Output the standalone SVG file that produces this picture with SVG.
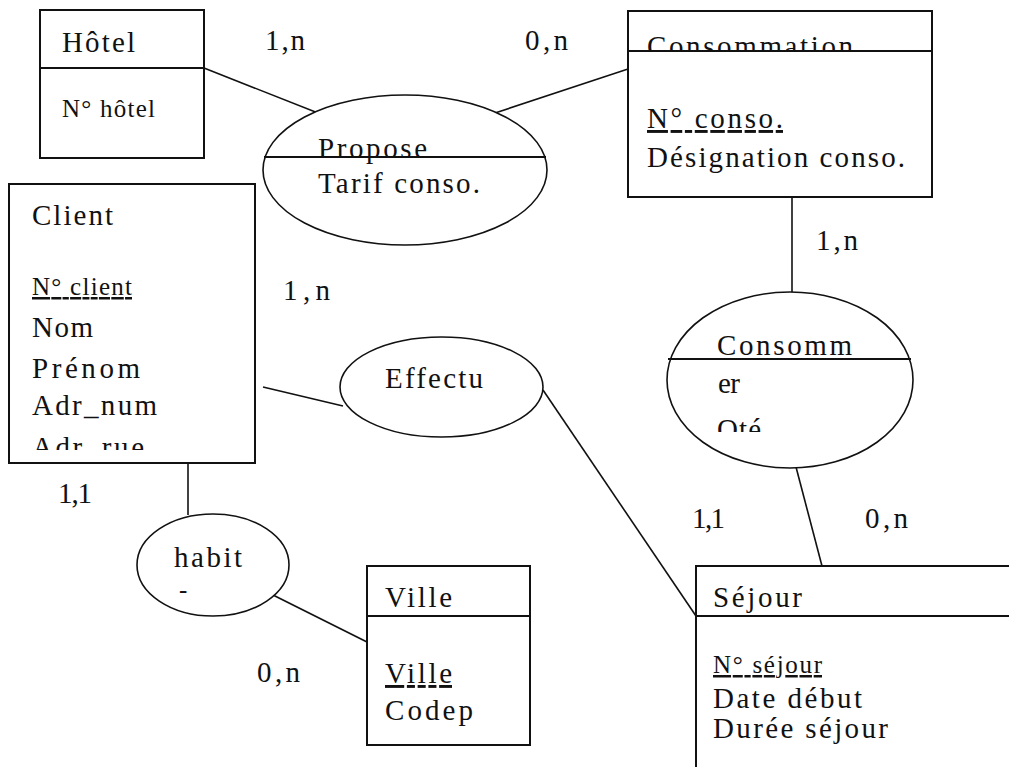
<svg xmlns="http://www.w3.org/2000/svg" width="1009" height="767" viewBox="0 0 1009 767">
<style>
text{font-family:"Liberation Serif","Times New Roman",serif;font-size:25px;fill:#111}
.t{font-size:29px}
.box{fill:#fff;stroke:#111;stroke-width:2}
.div{stroke:#111;stroke-width:2}
.ell{fill:#fff;stroke:#111;stroke-width:1.6}
.con{stroke:#111;stroke-width:1.6;fill:none}
.u{text-decoration:underline}
</style>
<defs>
<clipPath id="cCons"><rect x="630" y="12" width="300" height="38"/></clipPath>
<clipPath id="cAdr"><rect x="10" y="420" width="240" height="30"/></clipPath>
<clipPath id="cQte"><rect x="668" y="400" width="200" height="32"/></clipPath>
</defs>
<rect width="1009" height="767" fill="#fff"/>
<g id="connectors">
<line class="con" x1="204" y1="68" x2="318" y2="113"/>
<line class="con" x1="495" y1="113" x2="628" y2="69"/>
<line class="con" x1="792" y1="197" x2="792" y2="292"/>
<line class="con" x1="796" y1="467" x2="822" y2="566"/>
<line class="con" x1="263" y1="387" x2="343" y2="406"/>
<line class="con" x1="543" y1="390" x2="696" y2="616"/>
<line class="con" x1="188" y1="463" x2="188" y2="515"/>
<line class="con" x1="263" y1="590" x2="367" y2="642"/>
</g>
<g id="hotel">
<rect class="box" x="40" y="10" width="164" height="148"/>
<line class="div" x1="40" y1="68" x2="204" y2="68"/>
<text class="t" x="62" y="52" textLength="73" lengthAdjust="spacing">Hôtel</text>
<text x="62" y="117" textLength="93" lengthAdjust="spacing">N° hôtel</text>
</g>
<g id="propose">
<ellipse class="ell" cx="405" cy="170" rx="142" ry="75"/>
<line class="div" x1="264" y1="157" x2="546" y2="157"/>
<text class="t" x="318" y="158" textLength="109" lengthAdjust="spacing">Propose</text>
<text class="t" x="318" y="193" textLength="162" lengthAdjust="spacing">Tarif conso.</text>
</g>
<g id="consommation">
<rect class="box" x="628" y="11" width="304" height="186"/>
<text class="t" x="647" y="56" textLength="206" lengthAdjust="spacing" clip-path="url(#cCons)">Consommation</text>
<line class="div" x1="628" y1="51" x2="932" y2="51"/>
<text class="t u" x="647" y="128" textLength="136" lengthAdjust="spacing">N° conso.</text>
<text class="t" x="647" y="167" textLength="258" lengthAdjust="spacing">Désignation conso.</text>
</g>
<g id="client">
<rect class="box" x="9" y="184" width="246" height="279"/>
<text class="t" x="32" y="225" textLength="81" lengthAdjust="spacing">Client</text>
<text class="u" x="32" y="295" textLength="100" lengthAdjust="spacing">N° client</text>
<text class="t" x="32" y="337" textLength="61" lengthAdjust="spacing">Nom</text>
<text class="t" x="32" y="378" textLength="108" lengthAdjust="spacing">Prénom</text>
<text class="t" x="32" y="415" textLength="125" lengthAdjust="spacing">Adr_num</text>
<text class="t" x="32" y="457" textLength="112" lengthAdjust="spacing" clip-path="url(#cAdr)">Adr_rue</text>
</g>
<g id="effectu">
<ellipse class="ell" cx="441.5" cy="387" rx="101.5" ry="50"/>
<text class="t" x="385" y="388" textLength="98" lengthAdjust="spacing">Effectu</text>
</g>
<g id="consommer">
<ellipse class="ell" cx="790" cy="380" rx="123" ry="88"/>
<line class="div" x1="668" y1="359" x2="911" y2="359"/>
<text class="t" x="717" y="355" textLength="135" lengthAdjust="spacing">Consomm</text>
<text class="t" x="718" y="393" textLength="22" lengthAdjust="spacing">er</text>
<text class="t" x="717" y="439" textLength="44" lengthAdjust="spacing" clip-path="url(#cQte)">Qté</text>
</g>
<g id="habit">
<ellipse class="ell" cx="213" cy="565" rx="76" ry="51"/>
<text class="t" x="174" y="567" textLength="68" lengthAdjust="spacing">habit</text>
<text x="179" y="598">-</text>
</g>
<g id="ville">
<rect class="box" x="367" y="566" width="163" height="179"/>
<line class="div" x1="367" y1="616" x2="530" y2="616"/>
<text class="t" x="385" y="607" textLength="67" lengthAdjust="spacing">Ville</text>
<text class="t u" x="385" y="683" textLength="67" lengthAdjust="spacing">Ville</text>
<text class="t" x="385" y="720" textLength="88" lengthAdjust="spacing">Codep</text>
</g>
<g id="sejour">
<rect class="box" x="696" y="566" width="330" height="220"/>
<line class="div" x1="696" y1="616" x2="1009" y2="616"/>
<text class="t" x="713" y="607" textLength="89" lengthAdjust="spacing">Séjour</text>
<text class="u" x="713" y="673" textLength="109" lengthAdjust="spacing">N° séjour</text>
<text class="t" x="713" y="708" textLength="149" lengthAdjust="spacing">Date début</text>
<text class="t" x="713" y="738" textLength="175" lengthAdjust="spacing">Durée séjour</text>
</g>
<g id="labels">
<text class="t" x="265" y="50" textLength="40" lengthAdjust="spacing">1,n</text>
<text class="t" x="525" y="50" textLength="43" lengthAdjust="spacing">0,n</text>
<text class="t" x="816" y="250" textLength="42" lengthAdjust="spacing">1,n</text>
<text class="t" x="283" y="300" textLength="47" lengthAdjust="spacing">1,n</text>
<text class="t" x="58" y="503" textLength="34" lengthAdjust="spacing">1,1</text>
<text class="t" x="257" y="682" textLength="43" lengthAdjust="spacing">0,n</text>
<text class="t" x="692" y="528" textLength="33" lengthAdjust="spacing">1,1</text>
<text class="t" x="865" y="528" textLength="43" lengthAdjust="spacing">0,n</text>
</g>
</svg>
